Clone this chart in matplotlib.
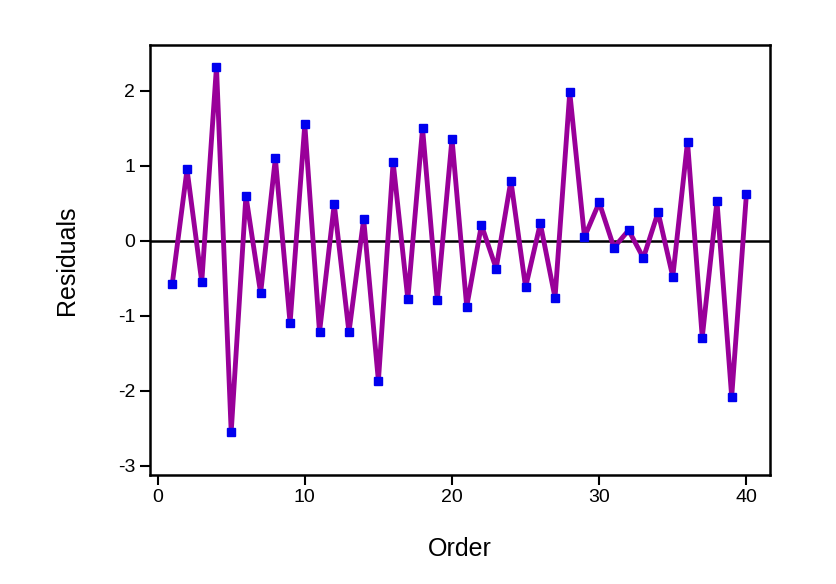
import matplotlib
matplotlib.use("Agg")
import matplotlib.pyplot as plt

order = list(range(1, 41))
residuals = [-0.57, 0.95, -0.55, 2.32, -2.55, 0.6, -0.7, 1.1, -1.1, 1.55,
             -1.22, 0.49, -1.22, 0.29, -1.87, 1.05, -0.78, 1.5, -0.79, 1.36,
             -0.88, 0.21, -0.37, 0.8, -0.62, 0.23, -0.76, 1.98, 0.05, 0.51,
             -0.09, 0.14, -0.23, 0.38, -0.48, 1.32, -1.29, 0.53, -2.08, 0.62]

plt.rcParams['font.family'] = ['Liberation Sans', 'DejaVu Sans']
plt.rcParams['axes.unicode_minus'] = False
fig = plt.figure(figsize=(8.36, 5.84), dpi=100)
ax = fig.add_axes([0.179, 0.187, 0.742, 0.736])
ax.axhline(0, color='black', lw=1.8, zorder=1)
ax.plot(order, residuals, color='#990099', lw=3.5, zorder=2)
ax.plot(order, residuals, 's', color='#0000ee', ms=6, zorder=3)
ax.set_xlim(-0.54, 41.6)
ax.set_ylim(-3.12, 2.61)
ax.set_xticks([0, 10, 20, 30, 40])
ax.set_yticks([-3, -2, -1, 0, 1, 2])
for s in ax.spines.values():
    s.set_linewidth(1.8)
ax.tick_params(width=1.5, length=7, labelsize=14)
ax.set_xlabel('Order', fontsize=18, labelpad=22)
ax.set_ylabel('Residuals', fontsize=18, labelpad=28)
fig.savefig('out.png', dpi=100)
